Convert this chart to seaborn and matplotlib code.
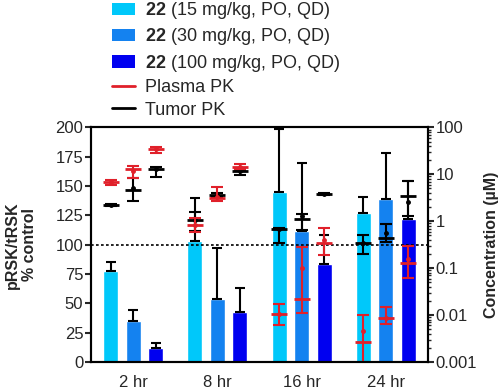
import numpy as np
import pandas as pd
import matplotlib
matplotlib.use("Agg")
import matplotlib.pyplot as plt
from matplotlib.patches import Patch
from matplotlib.lines import Line2D
from matplotlib.ticker import FuncFormatter, MultipleLocator
import seaborn as sns

# ---- data (time-major order: 2 hr x [15, 30, 100], 8 hr x [...], ...) ----
times = ["2 hr", "8 hr", "16 hr", "24 hr"]
doses = ["15", "30", "100"]
dose_labels = [
    r"$\mathbf{22}$ (15 mg/kg, PO, QD)",
    r"$\mathbf{22}$ (30 mg/kg, PO, QD)",
    r"$\mathbf{22}$ (100 mg/kg, PO, QD)",
]

# pRSK/tRSK % control
prsk_mean = [78, 35, 12,  103, 54, 43,  145, 112, 83.5,  127, 139, 121.6]
prsk_err = [7, 9, 4.5,  37, 43, 20,  54, 58, 25,  14, 39, 33]

# plasma PK (uM): median line, low / high whisker, mean dot
plasma_mid = [6.9, 13, 34,  0.84, 3.1, 14.6,  0.0105, 0.022, 0.34,  0.0027, 0.0086, 0.13]
plasma_lo = [6.0, 8.5, 29,  0.59, 2.75, 13.3,  0.0062, 0.011, 0.19,  0.001, 0.0065, 0.062]
plasma_hi = [7.6, 15, 39,  1.17, 5.4, 16.2,  0.017, 0.28, 0.72,  0.010, 0.015, 0.29]
plasma_dot = [6.9, 12, 34,  0.84, 3.3, 14.6,  0.0105, 0.10, 0.40,  0.0045, 0.0086, 0.16]

# tumor PK (uM)
tumor_mid = [2.2, 4.6, 13.3,  1.06, 3.6, 11.7,  0.68, 1.1, 3.8,  0.34, 0.44, 3.4]
tumor_lo = [2.1, 2.75, 8.7,  0.63, 3.3, 9.6,  0.34, 0.65, 3.6,  0.20, 0.36, 1.27]
tumor_hi = [2.3, 8.5, 14.0,  1.55, 4.0, 12.3,  0.72, 1.45, 4.0,  0.52, 0.87, 7.3]
tumor_dot = [2.2, 5.0, 13.0,  1.06, 3.6, 11.7,  0.68, 1.3, 3.8,  0.34, 0.55, 2.6]

bar_colors = ["#00C8FA", "#1482F0", "#0000F0"]
red = "#E0202A"

sns.set_style("ticks")
plt.rcParams["font.family"] = ["Liberation Sans", "DejaVu Sans"]
plt.rcParams["mathtext.fontset"] = "custom"
plt.rcParams["mathtext.bf"] = "Liberation Sans:bold"
plt.rcParams["mathtext.rm"] = "Liberation Sans"

df = pd.DataFrame({
    "time": np.repeat(times, 3),
    "dose": np.tile(doses, 4),
    "prsk": prsk_mean,
})

fig = plt.figure(figsize=(5, 3.92), dpi=100)
ax = fig.add_axes([0.182, 0.0765, 0.674, 0.5985])

sns.barplot(data=df, x="time", y="prsk", hue="dose", order=times,
            hue_order=doses, palette=bar_colors, saturation=1,
            errorbar=None, width=0.8, gap=0.33, legend=False, ax=ax)

bars = sorted(ax.patches, key=lambda p: p.get_x())
xs = np.array([p.get_x() + p.get_width() / 2 for p in bars])

ax.errorbar(xs, prsk_mean, yerr=[np.zeros(len(prsk_err)), prsk_err],
            fmt="none", ecolor="black", elinewidth=1.5, capsize=3.5,
            capthick=1.5, zorder=2)
ax.axhline(100, color="black", ls=(0, (1.6, 1.4)), lw=1.2, zorder=3)

ax.set_xlim(-0.5, 3.5)
ax.set_ylim(0, 200)
ax.yaxis.set_major_locator(MultipleLocator(25))
ax.set_xlabel("")
ax.set_ylabel("pRSK/tRSK\n% control", fontsize=11.5, fontweight="bold")
ax.yaxis.set_label_coords(-0.16, 0.5)
ax.tick_params(axis="y", length=4, width=1.5, labelsize=12, pad=1.5)
ax.tick_params(axis="x", length=0, pad=9, labelsize=12)

ax2 = ax.twinx()
ax2.set_yscale("log")
ax2.set_ylim(0.001, 100)

for mid, lo, hi, dot, col in [
    (tumor_mid, tumor_lo, tumor_hi, tumor_dot, "black"),
    (plasma_mid, plasma_lo, plasma_hi, plasma_dot, red),
]:
    mid = np.array(mid)
    ax2.errorbar(xs, mid, yerr=[mid - np.array(lo), np.array(hi) - mid],
                 fmt="none", ecolor=col, elinewidth=1.5, capsize=4,
                 capthick=1.5)
    ax2.plot(xs, mid, ls="none", marker="_", ms=12, mew=2, color=col)
    ax2.plot(xs, dot, ls="none", marker="o", ms=2.5, color=col)

ax2.yaxis.set_major_formatter(FuncFormatter(lambda v, p: f"{v:g}"))
ax2.set_ylabel("Concentration (µM)", fontsize=11.5, fontweight="bold")
ax2.yaxis.set_label_coords(1.165, 0.5)
ax2.tick_params(which="major", length=4, width=1.5, labelsize=12, pad=1.5)
ax2.tick_params(which="minor", length=2.5, width=1)

for a in (ax, ax2):
    for s in a.spines.values():
        s.set_linewidth(1.5)
        s.set_color("black")

handles = [Patch(facecolor=c, edgecolor="none") for c in bar_colors]
handles += [Line2D([], [], color=red, lw=2), Line2D([], [], color="black", lw=2)]
labels = dose_labels + ["Plasma PK", "Tumor PK"]
fig.legend(handles, labels, loc="upper left", bbox_to_anchor=(0.224, 1.0),
           frameon=False, fontsize=13, handlelength=1.25, handleheight=0.65,
           handletextpad=0.6, labelspacing=0.3, borderaxespad=0, borderpad=0)

fig.savefig("out.png", dpi=100)
